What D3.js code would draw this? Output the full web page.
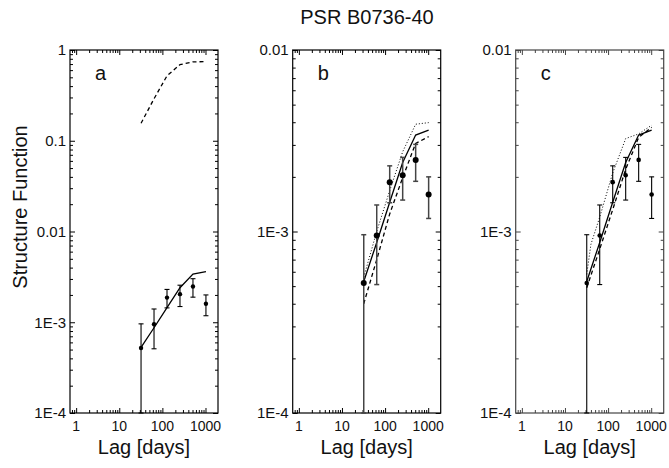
<!DOCTYPE html>
<html>
<head>
<meta charset="utf-8">
<script src="https://cdn.jsdelivr.net/npm/d3@7/dist/d3.min.js"></script>
<style>
  body { margin: 0; background: #fff; overflow: hidden; }
  svg { display: block; }
</style>
</head>
<body>
<svg></svg>
<script>
// measured structure function of PSR B0736-40
const lags = [32, 64, 128, 256, 512, 1024];
const sfMean = [5.2e-4, 9.5e-4, 1.87e-3, 2.04e-3, 2.48e-3, 1.6e-3];
const sfUpper = [9.6e-4, 1.4e-3, 2.3e-3, 2.56e-3, 3.02e-3, 2.0e-3];
const sfLower = [1e-4, 5.1e-4, 1.44e-3, 1.49e-3, 1.89e-3, 1.18e-3];

// model curves
const modelSolid = [5.3e-4, 8.7e-4, 1.45e-3, 2.4e-3, 3.4e-3, 3.62e-3];
const modelDashedA = [0.156, 0.29, 0.52, 0.69, 0.74, 0.745];
const modelDashedB = [4.0e-4, 7.0e-4, 1.25e-3, 1.98e-3, 3.06e-3, 3.33e-3];
const modelDottedB = [5.6e-4, 1.0e-3, 1.68e-3, 2.75e-3, 3.9e-3, 3.98e-3];
const modelDashedC = [4.9e-4, 8.0e-4, 1.32e-3, 2.2e-3, 3.3e-3, 3.75e-3];
const dottedCLags = [32, 40, 64, 128, 256, 512, 1024];
const modelDottedC = [5.8e-4, 8.5e-4, 1.2e-3, 2.1e-3, 3.25e-3, 3.45e-3, 3.85e-3];

const xTicks = [1, 10, 100, 1000];
const yTicksA = [1, 0.1, 0.01, 1e-3, 1e-4];
const yLabelsA = ['1', '0.1', '0.01', '1E-3', '1E-4'];
const yTicksBC = [1e-2, 1e-3, 1e-4];
const yLabelsBC = ['0.01', '1E-3', '1E-4'];

const WIDTH = 669;
const HEIGHT = 468;
const PANEL_TOP = 50;
const PANEL_BOTTOM = 413;
const PANEL_WIDTH = 148;
const PANEL_LEFTS = [70, 292.7, 515.7];
const FONT = '"Liberation Sans", Arial, sans-serif';

const zip = (xs, ys) => xs.map((x, i) => [x, ys[i]]);

const panels = [
  {
    label: 'a',
    yDomain: [1e-4, 1],
    yTicks: yTicksA,
    yLabels: yLabelsA,
    curves: [
      { pts: zip(lags, modelSolid), dash: null },
      { pts: zip(lags, modelDashedA), dash: '4,3' }],
    barColor: '#000', barWidth: 1.1, dotR: 2.2, frame: '#000' },
  {
    label: 'b',
    yDomain: [1e-4, 1e-2],
    yTicks: yTicksBC,
    yLabels: yLabelsBC,
    curves: [
      { pts: zip(lags, modelSolid), dash: null },
      { pts: zip(lags, modelDashedB), dash: '4,3' },
      { pts: zip(lags, modelDottedB), dash: '1,2' }],
    barColor: '#444', barWidth: 1.5, dotR: 3, frame: '#000' },
  {
    label: 'c',
    yDomain: [1e-4, 1e-2],
    yTicks: yTicksBC,
    yLabels: yLabelsBC,
    curves: [
      { pts: zip(lags, modelSolid), dash: null },
      { pts: zip(lags, modelDashedC), dash: '4,3' },
      { pts: zip(dottedCLags, modelDottedC), dash: '1,2' }],
    barColor: '#000', barWidth: 1.1, dotR: 2.3, frame: '#444' }];


const svg = d3.select('svg').
attr('width', WIDTH).
attr('height', HEIGHT).
attr('font-family', FONT);

svg.append('text').
attr('x', 367).
attr('y', 24).
attr('text-anchor', 'middle').
attr('font-size', '20px').
attr('fill', '#111').
text('PSR B0736-40');

svg.append('text').
attr('transform', 'rotate(-90)').
attr('x', -207).
attr('y', 26.5).
attr('text-anchor', 'middle').
attr('font-size', '20px').
attr('fill', '#111').
text('Structure Function');

// minor ticks for a log scale: 2..9 of every decade inside the domain
const minorTicks = (lo, hi) => {
  const out = [];
  for (let e = Math.floor(Math.log10(lo)); e <= Math.ceil(Math.log10(hi)); e++) {
    for (let m = 2; m <= 9; m++) {
      const v = m * Math.pow(10, e);
      if (v > lo && v < hi) out.push(v);
    }
  }
  return out;
};

const textLayer = svg.append('g').attr('fill', '#111');

panels.forEach((p, i) => {
  const left = PANEL_LEFTS[i];
  const right = left + PANEL_WIDTH;
  const xScale = d3.scaleLog().domain([0.72, 1950]).range([left, right]);
  const yScale = d3.scaleLog().domain(p.yDomain).range([PANEL_BOTTOM, PANEL_TOP]);

  const g = svg.append('g');

  // tick marks on all four sides, pointing inward
  const xMinor = minorTicks(0.72, 1950);
  const yMinor = minorTicks(p.yDomain[0], p.yDomain[1]);

  const tickAxes = [
    [d3.axisBottom(xScale), `translate(0,${PANEL_BOTTOM})`, xTicks, xMinor],
    [d3.axisTop(xScale), `translate(0,${PANEL_TOP})`, xTicks, xMinor],
    [d3.axisLeft(yScale), `translate(${left},0)`, p.yTicks, yMinor],
    [d3.axisRight(yScale), `translate(${right},0)`, p.yTicks, yMinor]];

  tickAxes.forEach(([axis, tr, major, minor]) => {
    [[major, -5], [minor, -3]].forEach(([vals, len]) => {
      g.append('g').
      attr('transform', tr).
      call(axis.tickValues(vals).tickSize(len).tickFormat('')).
      call(sel => sel.select('.domain').remove()).
      call(sel => sel.selectAll('text').remove()).
      call(sel => sel.selectAll('line').attr('stroke', p.frame));
    });
  });

  g.append('rect').
  attr('x', left).
  attr('y', PANEL_TOP).
  attr('width', PANEL_WIDTH).
  attr('height', PANEL_BOTTOM - PANEL_TOP).
  attr('fill', 'none').
  attr('stroke', p.frame).
  attr('stroke-width', 1.2);

  // tick labels
  xTicks.forEach(t => {
    textLayer.append('text').
    attr('x', xScale(t)).
    attr('y', PANEL_BOTTOM + 18).
    attr('text-anchor', 'middle').
    attr('font-size', '14px').
    text(t);
  });

  p.yTicks.forEach((t, k) => {
    textLayer.append('text').
    attr('x', left - 4).
    attr('y', yScale(t) + 5.4).
    attr('text-anchor', 'end').
    attr('font-size', '15px').
    text(p.yLabels[k]);
  });

  textLayer.append('text').
  attr('x', left + 25).
  attr('y', PANEL_TOP + 30).
  attr('font-size', '20px').
  text(p.label);

  textLayer.append('text').
  attr('x', left + PANEL_WIDTH / 2).
  attr('y', PANEL_TOP + 404).
  attr('text-anchor', 'middle').
  attr('font-size', '20px').
  text('Lag [days]');

  // model curves
  const line = d3.line().
  x(d => xScale(d[0])).
  y(d => yScale(d[1]));

  p.curves.forEach(c => {
    g.append('path').
    attr('d', line(c.pts)).
    attr('fill', 'none').
    attr('stroke', '#000').
    attr('stroke-width', c.dash === '1,2' ? 1 : 1.3).
    attr('stroke-dasharray', c.dash);
  });

  // data points with error bars
  const pts = lags.map((l, k) => ({ lag: l, v: sfMean[k], hi: sfUpper[k], lo: sfLower[k] }));

  const bars = g.append('g').
  attr('stroke', p.barColor).
  attr('stroke-width', p.barWidth);

  bars.selectAll('.bar').
  data(pts).
  join('line').
  attr('class', 'bar').
  attr('x1', d => xScale(d.lag)).
  attr('x2', d => xScale(d.lag)).
  attr('y1', d => yScale(d.lo)).
  attr('y2', d => yScale(d.hi));

  ['hi', 'lo'].forEach(key => {
    bars.selectAll(`.cap-${key}`).
    data(pts).
    join('line').
    attr('class', `cap-${key}`).
    attr('x1', d => xScale(d.lag) - 2.5).
    attr('x2', d => xScale(d.lag) + 2.5).
    attr('y1', d => yScale(d[key])).
    attr('y2', d => yScale(d[key]));
  });

  g.append('g').
  selectAll('circle').
  data(pts).
  join('circle').
  attr('cx', d => xScale(d.lag)).
  attr('cy', d => yScale(d.v)).
  attr('r', p.dotR).
  attr('fill', '#000');
});
</script>
</body>
</html>
